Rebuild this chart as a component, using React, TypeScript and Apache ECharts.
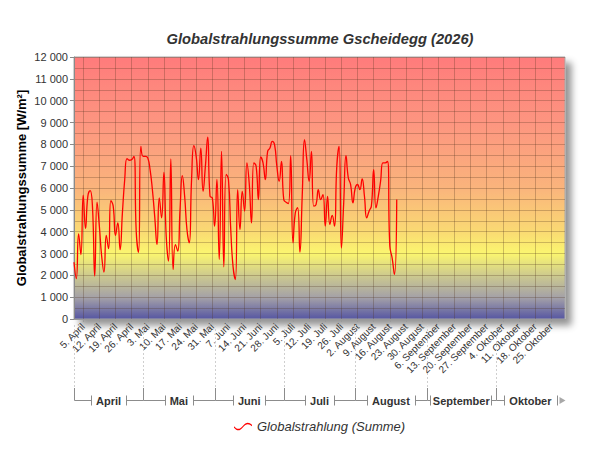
import React, { useEffect, useRef } from "react";
import * as echarts from "echarts";

const TITLE = "Globalstrahlungssumme Gscheidegg (2026)";
const Y_NAME = "Globalstrahlungssumme [W/m²]";
const SERIES_NAME = "Globalstrahlung (Summe)";
const YEAR = 2026;
const FIRST_MONTH = 3; // April (0-based)
const DAY_COUNT = 214; // 1. April .. 31. Oktober
const MONTH_NAMES = [
  "Januar", "Februar", "März", "April", "Mai", "Juni",
  "Juli", "August", "September", "Oktober", "November", "Dezember",
];
const Y_MIN = 0;
const Y_MAX = 12000;
const Y_STEP = 1000;

// daily global radiation sums from 1. April on (W/m²)
const dailySums = [
  2600, 1850, 3900, 2950, 5670, 4150, 5620, 5880, 5170, 1970,
  5350, 4250, 2880, 2150, 3830, 3220, 5420, 5170, 3830, 4400,
  3180, 4860, 6390, 7350, 7270, 7300, 7450, 4000, 3050, 7900,
  7450, 7450, 7380, 6840, 5930, 4710, 3410, 5550, 4630, 6720,
  3790, 2650, 7330, 2270, 3410, 3110, 5010, 6570, 5620, 4100,
  3490, 6390, 7940, 7450, 6390, 7830, 5850, 7000, 8330, 5620,
  5550, 4250, 6390, 2730, 7680, 2390, 6620, 6390, 4100, 2400,
  1810, 5930, 4100, 5850, 4940, 7150, 6230, 4400, 7150, 7000,
  5470, 7420, 7150, 6390, 7680, 7830, 8140, 7990, 7000, 6310,
  7220, 5470, 5350, 5290, 7480, 3490, 4860, 5100, 3060, 5620,
  8210, 7300, 6310, 7680, 5170, 5240, 5930, 5470, 5700, 4250,
  5620, 4330, 4740, 4250, 7000, 7900, 3250, 5320, 7480, 6460,
  6160, 5320, 6000, 6160, 5930, 6420, 5620, 4630, 4940, 5170,
  6840, 5090, 5620, 6310, 7150, 7150, 7220, 3340, 2800, 2040,
  5470,
];

const days = Array.from({ length: DAY_COUNT }, (_, i) => new Date(YEAR, FIRST_MONTH, 1 + i));
const pad = (n: number) => String(n).padStart(2, "0");
const categories = days.map((d) => `${d.getFullYear()}-${pad(d.getMonth() + 1)}-${pad(d.getDate())}`);
const isSunday = (i: number) => days[i] !== undefined && days[i].getDay() === 0;

// month spans on the category axis: [startIndex, 0, endIndex]
const monthStarts = days.map((d, i) => (d.getDate() === 1 ? i : -1)).filter((i) => i >= 0);
const monthSpans = monthStarts.map((s, k) => [
  s,
  0,
  k + 1 < monthStarts.length ? monthStarts[k + 1] : DAY_COUNT - 1,
]);
const monthLabels = monthStarts.map((s) => MONTH_NAMES[days[s].getMonth()]);

const FONT = '"Liberation Sans", Arial, Helvetica, sans-serif';
const thousands = (v: number) => String(v).replace(/\B(?=(\d{3})+(?!\d))/g, " ");

let measureCtx: CanvasRenderingContext2D | null = null;
const measure = (t: string) => {
  if (!measureCtx) measureCtx = document.createElement("canvas").getContext("2d");
  if (!measureCtx) return t.length * 6.5;
  measureCtx.font = `bold 11px ${FONT}`;
  return measureCtx.measureText(t).width;
};

export default function App() {
  const ref = useRef<HTMLDivElement>(null);

  useEffect(() => {
    if (!ref.current) return;
    const chart = echarts.init(ref.current, undefined, { renderer: "svg" });
    const gridLine = { color: "rgba(80,50,30,0.28)", width: 1 };

    const option: any = {
      animation: false,
      backgroundColor: "#ffffff",
      textStyle: { fontFamily: FONT },
      graphic: [
        {
          type: "text",
          x: 320,
          y: 39,
          style: {
            text: TITLE,
            align: "center",
            verticalAlign: "middle",
            font: `italic bold 14.7px ${FONT}`,
            fill: "#333333",
          },
        },
      ],
      legend: {
        data: [SERIES_NAME],
        left: 229,
        top: 415,
        icon: "path://M0,5 C3,8.5 6,8.5 9,4.5 C12,0.5 15,0.5 18,3.5 L18,5 C15,2 12,2 9,6 C6,10 3,10 0,6.5 Z",
        itemWidth: 18,
        itemHeight: 10,
        textStyle: { fontStyle: "italic", fontSize: 13, color: "#333333", fontFamily: FONT },
      },
      grid: {
        left: 74,
        right: 35,
        top: 57,
        bottom: 131,
        show: true,
        backgroundColor: new echarts.graphic.LinearGradient(0, 0, 0, 1, [
          { offset: 0, color: "#ff7b7b" },
          { offset: 0.25, color: "#fd9580" },
          { offset: 0.5, color: "#fab47c" },
          { offset: 0.66, color: "#fad873" },
          { offset: 0.75, color: "#fbf66f" },
          { offset: 0.84, color: "#cac790" },
          { offset: 0.92, color: "#a3a0a8" },
          { offset: 1, color: "#5656a2" },
        ]),
        borderColor: "#a8a8a8",
        borderWidth: 1,
        shadowColor: "rgba(0,0,0,0.42)",
        shadowBlur: 7,
        shadowOffsetX: 6,
        shadowOffsetY: 6,
      },
      xAxis: {
        type: "category",
        data: categories,
        boundaryGap: false,
        axisLine: { show: true, lineStyle: { color: "#9a9a9a" } },
        axisTick: {
          show: true,
          length: 3,
          interval: (i: number) => isSunday(i),
          lineStyle: { color: "#9a9a9a" },
        },
        axisLabel: {
          interval: (i: number) => isSunday(i),
          rotate: 45,
          margin: 6,
          fontSize: 10,
          color: "#333333",
          fontFamily: FONT,
          formatter: (_v: string, i: number) =>
            `${days[i].getDate()}. ${MONTH_NAMES[days[i].getMonth()]}`,
        },
        splitLine: {
          show: true,
          interval: (i: number) => isSunday(i),
          lineStyle: gridLine,
        },
      },
      yAxis: {
        type: "value",
        min: Y_MIN,
        max: Y_MAX,
        interval: Y_STEP,
        name: Y_NAME,
        nameLocation: "middle",
        nameGap: 46,
        nameMoveOverlap: false,
        nameTextStyle: { fontSize: 13, fontWeight: "bold", color: "#000000", fontFamily: FONT },
        axisLine: { show: true, lineStyle: { color: "#8a8a8a" } },
        axisTick: { show: true, length: 4, lineStyle: { color: "#8a8a8a" } },
        axisLabel: {
          fontSize: 11,
          color: "#333333",
          margin: 6,
          fontFamily: FONT,
          formatter: (v: number) => thousands(v),
        },
        splitLine: { show: true, lineStyle: gridLine },
        minorTick: { show: false, splitNumber: 2 },
        minorSplitLine: { show: true, lineStyle: gridLine },
      },
      series: [
        {
          name: SERIES_NAME,
          type: "line",
          data: dailySums,
          smooth: 0.5,
          showSymbol: false,
          symbol: "none",
          lineStyle: { color: "#ff0000", width: 1.3 },
          itemStyle: { color: "#ff0000" },
          z: 3,
        },
        {
          name: "Monate",
          type: "custom",
          silent: true,
          clip: false,
          encode: { x: 0, y: 1 },
          data: monthSpans,
          z: 1,
          renderItem: (params: any, api: any) => {
            const idx = params.dataIndex;
            const p0 = api.coord([api.value(0), 0]);
            const p1 = api.coord([api.value(2), 0]);
            const r = (v: number) => Math.round(v) + 0.5;
            const x0 = r(p0[0]);
            const x1 = r(p1[0]);
            const yb = p0[1];
            const yl = r(yb + 81);
            const name = monthLabels[idx];
            const xc = (p0[0] + p1[0]) / 2;
            const tw = measure(name);
            const isLast = idx === monthSpans.length - 1;
            const xl = r(Math.max(p0[0] + 3, xc - tw / 2 - 5));
            const xr = r(Math.min(p1[0] - 5, xc + tw / 2 + 5));
            const stroke = "#8c8c8c";
            const children: any[] = [
              {
                type: "line",
                shape: { x1: x0, y1: yb + 6, x2: x0, y2: yb + 69 },
                style: { stroke: "#cfcfcf", lineWidth: 1, lineDash: [2, 2] },
              },
              {
                type: "line",
                shape: { x1: x0, y1: yb + 69, x2: x0, y2: yl },
                style: { stroke, lineWidth: 1 },
              },
              {
                type: "line",
                shape: { x1: x0, y1: yl, x2: xl, y2: yl },
                style: { stroke, lineWidth: 1 },
              },
              {
                type: "line",
                shape: { x1: xl, y1: yl - 5, x2: xl, y2: yl + 5 },
                style: { stroke, lineWidth: 1 },
              },
              {
                type: "text",
                style: {
                  text: name,
                  x: xc,
                  y: yl,
                  align: "center",
                  verticalAlign: "middle",
                  font: `bold 11px ${FONT}`,
                  fill: "#333333",
                },
              },
              {
                type: "line",
                shape: { x1: xr, y1: yl - 5, x2: xr, y2: yl + 5 },
                style: { stroke, lineWidth: 1 },
              },
            ];
            if (isLast) {
              children.push({
                type: "polygon",
                shape: { points: [[xr + 2, yl - 3.5], [xr + 2, yl + 3.5], [xr + 8, yl]] },
                style: { fill: "#a8a8a8" },
              });
            } else {
              children.push({
                type: "line",
                shape: { x1: xr, y1: yl, x2: x1, y2: yl },
                style: { stroke, lineWidth: 1 },
              });
            }
            return { type: "group", children };
          },
        },
      ],
    };

    chart.setOption(option);
    return () => chart.dispose();
  }, []);

  return (
    <div
      ref={ref}
      style={{ position: "absolute", left: 0, top: 0, width: 600, height: 450 }}
    />
  );
}
